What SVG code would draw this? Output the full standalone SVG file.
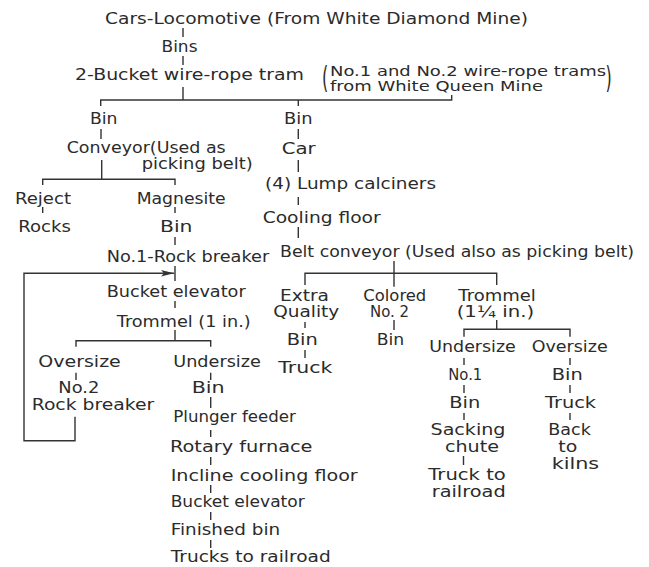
<svg xmlns="http://www.w3.org/2000/svg" width="649" height="567" viewBox="0 0 649 567">
<defs>
<style>
.t{font-family:"DejaVu Sans","Liberation Sans",sans-serif;font-size:16px;fill:#2b2b2b}
.s{font-size:14px}
.m{font-size:15px}
.c{stroke:#333;stroke-width:1.4;fill:none}
</style>
<marker id="arr" markerWidth="14" markerHeight="8" refX="13" refY="4" orient="auto" markerUnits="userSpaceOnUse">
<path d="M0,0.8 L13,4 L0,7.2 L3,4 Z" fill="#333"/>
</marker>
</defs>
<rect width="649" height="567" fill="#fff"/>
<g id="connectors">
<path class="c" d="M183 28 V37"/>
<path class="c" d="M183 56 V65"/>
<path class="c" d="M183 87 V100"/>
<path class="c" d="M100.7 106 V100 H451.7 V95"/>
<path class="c" d="M298.3 100 V106"/>
<path class="c" d="M101 129 V139"/>
<path class="c" d="M298.3 129 V139"/>
<path class="c" d="M101.7 160 V179.3"/>
<path class="c" d="M42.7 185 V179.3 H175 V185"/>
<path class="c" d="M42.7 207 V213"/>
<path class="c" d="M175 207 V213"/>
<path class="c" d="M175 237 V245"/>
<path class="c" d="M175 266 V281"/>
<path class="c" d="M75 416.7 V440.7 H24 V273.3 H174" marker-end="url(#arr)"/>
<path class="c" d="M175 301 V308"/>
<path class="c" d="M175 330 V340.7"/>
<path class="c" d="M76 346.7 V340.7 H210.7 V346.7"/>
<path class="c" d="M76 372.7 V380"/>
<path class="c" d="M210.7 372.7 V380"/>
<path class="c" d="M210.7 397 V408"/>
<path class="c" d="M210.7 430 V437"/>
<path class="c" d="M210.7 457 V465"/>
<path class="c" d="M210.7 485 V493"/>
<path class="c" d="M210.7 512 V520"/>
<path class="c" d="M210.7 540 V548"/>
<path class="c" d="M298.3 160 V172"/>
<path class="c" d="M298.3 197 V205"/>
<path class="c" d="M298.3 227 V238"/>
<path class="c" d="M394 261 V286.7"/>
<path class="c" d="M305 285 V273.3 H496.7 V285"/>
<path class="c" d="M305 322 V328"/>
<path class="c" d="M305 350 V358"/>
<path class="c" d="M394 320 V330"/>
<path class="c" d="M496.7 320 V329.3"/>
<path class="c" d="M464 336.7 V329.3 H570 V336.7"/>
<path class="c" d="M464 358 V365"/>
<path class="c" d="M570 358 V365"/>
<path class="c" d="M464 385 V393"/>
<path class="c" d="M570 385 V393"/>
<path class="c" d="M464 413 V420"/>
<path class="c" d="M570 413 V420"/>
<path class="c" d="M463.5 456 V465"/>
</g>
<g id="n-title"><text class="t" x="105" y="24" textLength="423" lengthAdjust="spacingAndGlyphs">Cars-Locomotive (From White Diamond Mine)</text></g>
<g id="n-bins"><text class="t" x="161.5" y="52" textLength="36" lengthAdjust="spacingAndGlyphs">Bins</text></g>
<g id="n-tram"><text class="t" x="75" y="80" textLength="229" lengthAdjust="spacingAndGlyphs">2-Bucket wire-rope tram</text></g>
<g id="n-tramnote">
<text class="t" transform="translate(322,88) scale(1,1.9)">(</text>
<text class="t s" x="330" y="75.5" textLength="276" lengthAdjust="spacingAndGlyphs">No.1 and No.2 wire-rope trams</text>
<text class="t s" x="330" y="91" textLength="213" lengthAdjust="spacingAndGlyphs">from White Queen Mine</text>
<text class="t" transform="translate(605.5,88) scale(1,1.9)">)</text>
</g>
<g id="n-binL"><text class="t" x="90" y="124" textLength="27.5" lengthAdjust="spacingAndGlyphs">Bin</text></g>
<g id="n-binM"><text class="t" x="284" y="124" textLength="28.5" lengthAdjust="spacingAndGlyphs">Bin</text></g>
<g id="n-conveyor">
<text class="t" x="66.7" y="153" textLength="159" lengthAdjust="spacingAndGlyphs">Conveyor(Used as</text>
<text class="t m" x="141.7" y="169" textLength="111" lengthAdjust="spacingAndGlyphs">picking belt)</text>
</g>
<g id="n-car"><text class="t" x="281.7" y="153.5" textLength="34" lengthAdjust="spacingAndGlyphs">Car</text></g>
<g id="n-reject"><text class="t" x="15" y="204" textLength="56" lengthAdjust="spacingAndGlyphs">Reject</text></g>
<g id="n-magnesite"><text class="t" x="136.7" y="204" textLength="89" lengthAdjust="spacingAndGlyphs">Magnesite</text></g>
<g id="n-rocks"><text class="t" x="18.3" y="231.7" textLength="52.5" lengthAdjust="spacingAndGlyphs">Rocks</text></g>
<g id="n-binMag"><text class="t" x="160" y="231.7" textLength="32.5" lengthAdjust="spacingAndGlyphs">Bin</text></g>
<g id="n-calciners"><text class="t" x="265" y="189" textLength="171" lengthAdjust="spacingAndGlyphs">(4) Lump calciners</text></g>
<g id="n-cooling"><text class="t" x="262.7" y="223.3" textLength="118" lengthAdjust="spacingAndGlyphs">Cooling floor</text></g>
<g id="n-belt"><text class="t" x="280" y="257" textLength="354" lengthAdjust="spacingAndGlyphs">Belt conveyor (Used also as picking belt)</text></g>
<g id="n-rock1"><text class="t" x="106.7" y="261.7" textLength="162.5" lengthAdjust="spacingAndGlyphs">No.1-Rock breaker</text></g>
<g id="n-bucket1"><text class="t" x="106.7" y="296.7" textLength="139" lengthAdjust="spacingAndGlyphs">Bucket elevator</text></g>
<g id="n-trommel1"><text class="t" x="116.7" y="326.7" textLength="134" lengthAdjust="spacingAndGlyphs">Trommel (1 in.)</text></g>
<g id="n-oversize1"><text class="t" x="38.3" y="367.3" textLength="82.5" lengthAdjust="spacingAndGlyphs">Oversize</text></g>
<g id="n-undersize1"><text class="t" x="173.3" y="367.3" textLength="87.5" lengthAdjust="spacingAndGlyphs">Undersize</text></g>
<g id="n-rock2">
<text class="t m" x="58.3" y="393" textLength="41" lengthAdjust="spacingAndGlyphs">No.2</text>
<text class="t" x="31.7" y="410.3" textLength="122.5" lengthAdjust="spacingAndGlyphs">Rock breaker</text>
</g>
<g id="n-bin1"><text class="t" x="191.7" y="393.3" textLength="33" lengthAdjust="spacingAndGlyphs">Bin</text></g>
<g id="n-plunger"><text class="t" x="173.3" y="421.7" textLength="122.5" lengthAdjust="spacingAndGlyphs">Plunger feeder</text></g>
<g id="n-rotary"><text class="t" x="170" y="451.7" textLength="142.5" lengthAdjust="spacingAndGlyphs">Rotary furnace</text></g>
<g id="n-incline"><text class="t" x="170.7" y="480.7" textLength="187" lengthAdjust="spacingAndGlyphs">Incline cooling floor</text></g>
<g id="n-bucket2"><text class="t" x="170.7" y="507.3" textLength="134" lengthAdjust="spacingAndGlyphs">Bucket elevator</text></g>
<g id="n-finished"><text class="t" x="170.7" y="535" textLength="109.5" lengthAdjust="spacingAndGlyphs">Finished bin</text></g>
<g id="n-trucksrr"><text class="t" x="170.7" y="561.7" textLength="160" lengthAdjust="spacingAndGlyphs">Trucks to railroad</text></g>
<g id="n-extra">
<text class="t m" x="280" y="300.5" textLength="49" lengthAdjust="spacingAndGlyphs">Extra</text>
<text class="t m" x="273.3" y="317" textLength="66" lengthAdjust="spacingAndGlyphs">Quality</text>
</g>
<g id="n-colored">
<text class="t m" x="363.3" y="300.5" textLength="63" lengthAdjust="spacingAndGlyphs">Colored</text>
<text class="t m" x="370" y="317" textLength="39" lengthAdjust="spacingAndGlyphs">No. 2</text>
</g>
<g id="n-trommel2">
<text class="t m" x="458.3" y="300.5" textLength="77.5" lengthAdjust="spacingAndGlyphs">Trommel</text>
<text class="t m" x="456.7" y="317" textLength="77.5" lengthAdjust="spacingAndGlyphs">(1¼ in.)</text>
</g>
<g id="n-binExtra"><text class="t" x="286.7" y="345" textLength="31" lengthAdjust="spacingAndGlyphs">Bin</text></g>
<g id="n-binColored"><text class="t" x="376.7" y="345" textLength="27.5" lengthAdjust="spacingAndGlyphs">Bin</text></g>
<g id="n-truckExtra"><text class="t" x="278.3" y="373.3" textLength="54" lengthAdjust="spacingAndGlyphs">Truck</text></g>
<g id="n-undersize2"><text class="t" x="429.3" y="351.7" textLength="86.5" lengthAdjust="spacingAndGlyphs">Undersize</text></g>
<g id="n-oversize2"><text class="t" x="531.7" y="351.7" textLength="76" lengthAdjust="spacingAndGlyphs">Oversize</text></g>
<g id="n-no1"><text class="t" x="448.3" y="380" textLength="34" lengthAdjust="spacingAndGlyphs">No.1</text></g>
<g id="n-binOver"><text class="t" x="551.7" y="380" textLength="31" lengthAdjust="spacingAndGlyphs">Bin</text></g>
<g id="n-binNo1"><text class="t" x="449.3" y="408.3" textLength="31" lengthAdjust="spacingAndGlyphs">Bin</text></g>
<g id="n-truckOver"><text class="t" x="545" y="408.3" textLength="51" lengthAdjust="spacingAndGlyphs">Truck</text></g>
<g id="n-sacking">
<text class="t m" x="430.5" y="435" textLength="75" lengthAdjust="spacingAndGlyphs">Sacking</text>
<text class="t m" x="445" y="451.5" textLength="54" lengthAdjust="spacingAndGlyphs">chute</text>
</g>
<g id="n-back">
<text class="t m" x="548.3" y="434.5" textLength="42.5" lengthAdjust="spacingAndGlyphs">Back</text>
<text class="t m" x="558.3" y="452" textLength="19" lengthAdjust="spacingAndGlyphs">to</text>
<text class="t m" x="551.7" y="468.5" textLength="47.5" lengthAdjust="spacingAndGlyphs">kilns</text>
</g>
<g id="n-truckrr">
<text class="t m" x="428.3" y="480" textLength="77.5" lengthAdjust="spacingAndGlyphs">Truck to</text>
<text class="t m" x="431.7" y="496.5" textLength="74" lengthAdjust="spacingAndGlyphs">railroad</text>
</g>
</svg>
